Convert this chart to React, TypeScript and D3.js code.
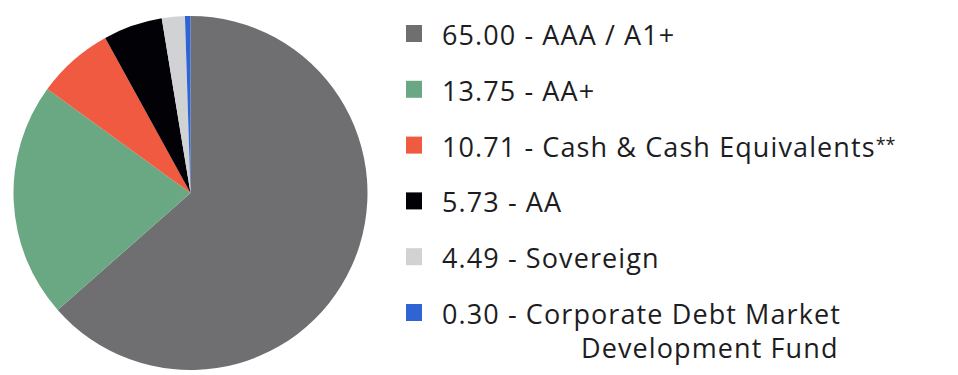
import React from "react"
import * as d3 from "d3"

// legend entries as printed
const legendValues = ["65.00", "13.75", "10.71", "5.73", "4.49", "0.30"]
const legendNames = [
    "AAA / A1+",
    "AA+",
    "Cash & Cash Equivalents**",
    "AA",
    "Sovereign",
    "Corporate Debt Market|Development Fund",
]
// slice sizes as drawn in the pie
const sliceShares = [63.5, 21.5, 7.0, 5.4, 2.1, 0.5]
const sliceColors = ["#6f6e71", "#69a882", "#f05a40", "#020206", "#d1d2d4", "#2e64d4"]

const width = 958
const height = 375

export default function App() {
    const cx = 190.5
    const cy = 193
    const radius = 177

    const arcData = d3.pie<number>()
        .sort(null)
        .value(d => d)
        (sliceShares)

    const arcGenerator = d3.arc<d3.PieArcDatum<number>>()
        .innerRadius(0)
        .outerRadius(radius)

    // legend rows on a point scale
    const rowY = d3.scalePoint<number>()
        .domain(d3.range(legendValues.length))
        .range([45, 324])

    return (
        <svg width={width} height={height} style={{ position: "absolute", left: 0, top: 0 }}
             fontFamily="'Open Sans', sans-serif">
            <g transform={`translate(${cx}, ${cy})`}>
                {arcData.map((d, i) => (
                    <path key={i} d={arcGenerator(d) || ""} fill={sliceColors[i]} />
                ))}
            </g>
            <g fontSize={27} fill="#1d1d1f" letterSpacing={1.1}>
                {legendValues.map((v, i) => {
                    const y = rowY(i) || 0
                    const lines = legendNames[i].split("|")
                    const first = lines[0]
                    const stars = first.endsWith("**")
                    return (
                        <g key={i}>
                            <rect x={406} y={y - 20} width={16} height={17} fill={sliceColors[i]} />
                            <text x={442} y={y}>
                                {`${v} - ${stars ? first.slice(0, -2) : first}`}
                                {stars && <tspan fontSize={18} dy={-6} letterSpacing={0}>**</tspan>}
                            </text>
                            {lines.slice(1).map((l, j) => (
                                <text key={j} x={581} y={y + 34 * (j + 1)}>{l}</text>
                            ))}
                        </g>
                    )
                })}
            </g>
        </svg>
    )
}
